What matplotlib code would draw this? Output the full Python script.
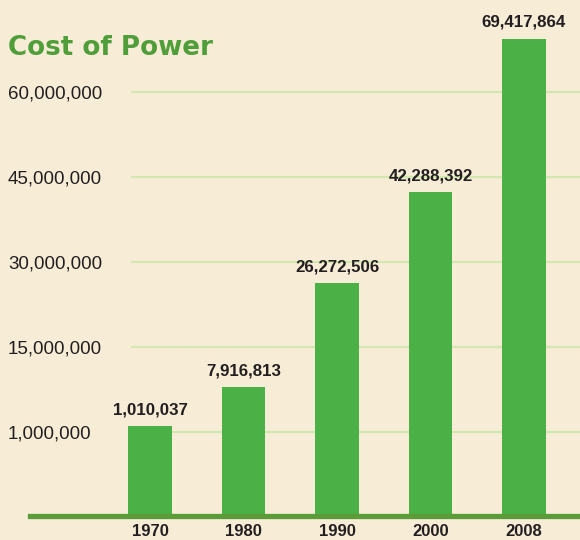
import matplotlib
matplotlib.use("Agg")
import matplotlib.pyplot as plt

years = ["1970", "1980", "1990", "2000", "2008"]
costs = [1010037, 7916813, 26272506, 42288392, 69417864]
cost_labels = ["1,010,037", "7,916,813", "26,272,506", "42,288,392", "69,417,864"]
ytick_values = [0, 15000000, 30000000, 45000000, 60000000]
ytick_labels = ["1,000,000", "15,000,000", "30,000,000", "45,000,000", "60,000,000"]
title = "Cost of Power"

BG = "#f7edd7"
BAR = "#4bb146"
GRID = "#d3e8b0"
BASE = "#5b9b38"
TXT = "#231f20"
TITLE = "#4f9e3a"

W, H = 580, 540
fig = plt.figure(figsize=(W / 100, H / 100), dpi=100, facecolor=BG)
ax_left, ax_bottom_px = 30, 516
ax = fig.add_axes([ax_left / W, (H - ax_bottom_px) / H, (W - ax_left) / W, ax_bottom_px / H])
ax.set_facecolor(BG)

step = 93.5
xmin = -(150 - ax_left) / step
xmax = xmin + (W - ax_left) / step
ax.set_xlim(xmin, xmax)
per_px = 15000000 / 85.0
ymin = -84 * per_px
ymax = 432 * per_px
ax.set_ylim(ymin, ymax)

x = list(range(len(years)))
grid_start = xmin + (131 - ax_left) / step
ax.hlines(ytick_values, grid_start, xmax, colors=GRID, linewidth=1.6, zorder=1)

heights = [c - ymin for c in costs]
ax.bar(x, heights, bottom=ymin, width=0.46, color=BAR, zorder=2)
ax.axhline(ymin, color=BASE, linewidth=3.8, zorder=3, clip_on=False)

for xi, c, lab in zip(x, costs, cost_labels):
    ax.annotate(lab, (xi, c), xytext=(0, 6.5), textcoords="offset points",
                ha="center", va="bottom", fontsize=12.2, fontweight="bold",
                family=["Liberation Sans", "DejaVu Sans"],
                color=TXT)

for s in ax.spines.values():
    s.set_visible(False)

ax.set_yticks(ytick_values, ytick_labels)
ax.tick_params(axis="y", length=0, pad=22 * 0.72, labelsize=13.5, labelcolor=TXT)
for lbl in ax.get_yticklabels():
    lbl.set_horizontalalignment("left")
    lbl.set_family(["Liberation Sans", "DejaVu Sans"])

ax.set_xticks(x, years)
ax.tick_params(axis="x", length=0, pad=8 * 0.72, labelsize=12, labelcolor=TXT)
for lbl in ax.get_xticklabels():
    lbl.set_fontweight("bold")
    lbl.set_family(["Liberation Sans", "DejaVu Sans"])

fig.text(8 / W, 1 - 55 / H, title, ha="left", va="baseline", fontsize=18.8,
         fontweight="bold", color=TITLE, family=["DejaVu Sans"])

fig.savefig("out.png", dpi=100, facecolor=BG)
